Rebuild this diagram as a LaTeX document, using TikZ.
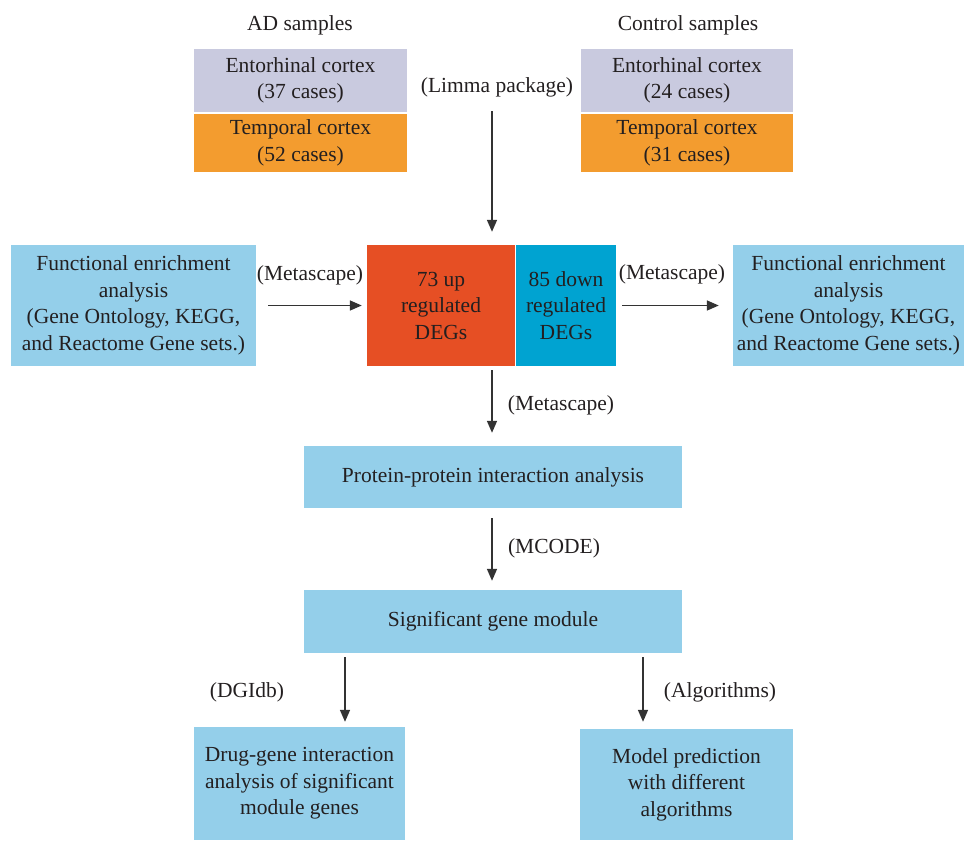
\documentclass[tikz,border=0pt]{standalone}
\usepackage{fontspec}
\setmainfont{Liberation Serif}
\usetikzlibrary{arrows.meta}
\definecolor{lav}{HTML}{C9CADF}
\definecolor{org}{HTML}{F39C2F}
\definecolor{upc}{HTML}{E64F24}
\definecolor{dnc}{HTML}{00A3D1}
\definecolor{lbl}{HTML}{94CFEA}
\definecolor{txt}{HTML}{231F20}
\definecolor{arc}{HTML}{333333}
\tikzset{
  box/.style={draw=none, inner sep=0pt, align=center, text=txt,
    font=\fontsize{21.5}{26.5}\selectfont},
  lab/.style={inner sep=0pt, text=txt, font=\fontsize{21.5}{26.5}\selectfont},
  arr/.style={draw=arc, line width=1.6pt, -{Triangle[length=12pt,width=10pt]}}
}
\begin{document}
\begin{tikzpicture}[x=1pt,y=-1pt]
\useasboundingbox (0,0) rectangle (965,841);
% top labels
\node[lab] (adl) at (300,25) {AD samples};
\node[lab] (ctl) at (688,25) {Control samples};
% sample boxes
\node[box, fill=lav, minimum width=213pt, minimum height=63pt] (adE) at (300.5,80.5) {Entorhinal cortex\\(37 cases)};
\node[box, fill=org, minimum width=213pt, minimum height=58pt] (adT) at (300.5,143) {Temporal cortex\\(52 cases)};
\node[box, fill=lav, minimum width=212pt, minimum height=63pt] (ctE) at (687,80.5) {Entorhinal cortex\\(24 cases)};
\node[box, fill=org, minimum width=212pt, minimum height=58pt] (ctT) at (687,143) {Temporal cortex\\(31 cases)};
\node[lab] (limma) at (497,87) {(Limma package)};
% DEG boxes
\node[box, fill=upc, minimum width=148pt, minimum height=121pt] (up) at (441,305.5) {73 up\\regulated\\DEGs};
\node[box, fill=dnc, minimum width=100pt, minimum height=121pt] (dn) at (566,305.5) {85 down\\regulated\\DEGs};
% functional enrichment
\node[box, fill=lbl, minimum width=245pt, minimum height=121pt] (fl) at (133.5,305.5) {Functional enrichment\\analysis\\(Gene Ontology, KEGG,\\and Reactome Gene sets.)};
\node[box, fill=lbl, minimum width=231pt, minimum height=121pt] (fr) at (848.5,305.5) {Functional enrichment\\analysis\\(Gene Ontology, KEGG,\\and Reactome Gene sets.)};
\node[lab] (ml) at (310,275) {(Metascape)};
\node[lab] (mr) at (672,274) {(Metascape)};
% PPI and module
\node[box, fill=lbl, minimum width=378pt, minimum height=62pt] (ppi) at (493,477) {Protein-protein interaction analysis};
\node[box, fill=lbl, minimum width=378pt, minimum height=63pt] (sgm) at (493,621.5) {Significant gene module};
\node[lab] (mc) at (561,405) {(Metascape)};
\node[lab] (mcode) at (554,548) {(MCODE)};
% bottom
\node[box, fill=lbl, minimum width=211pt, minimum height=113pt] (dg) at (299.5,783.5) {Drug-gene interaction\\analysis of significant\\module genes};
\node[box, fill=lbl, minimum width=213pt, minimum height=111pt] (mp) at (686.5,784.5) {Model prediction\\with different\\algorithms};
\node[lab] (dgi) at (247,692) {(DGIdb)};
\node[lab] (alg) at (720,692) {(Algorithms)};
% arrows
\coordinate (lstart) at (492,111);
\draw[arr] (lstart) -- ([yshift=13pt]up.north -| lstart);
\draw[arr] ([xshift=12pt]fl.east) -- ([xshift=-5pt]up.west);
\draw[arr] ([xshift=6pt]dn.east) -- ([xshift=-14pt]fr.west);
\draw[arr] ([yshift=-4pt]up.south -| lstart) -- ([yshift=13pt]ppi.north -| lstart);
\draw[arr] ([yshift=-10pt]ppi.south -| lstart) -- ([yshift=9pt]sgm.north -| lstart);
\coordinate (bl) at (345,0);
\coordinate (br) at (643,0);
\draw[arr] ([yshift=-4pt]sgm.south -| bl) -- ([yshift=5pt]dg.north -| bl);
\draw[arr] ([yshift=-4pt]sgm.south -| br) -- ([yshift=7pt]mp.north -| br);
\end{tikzpicture}
\end{document}
